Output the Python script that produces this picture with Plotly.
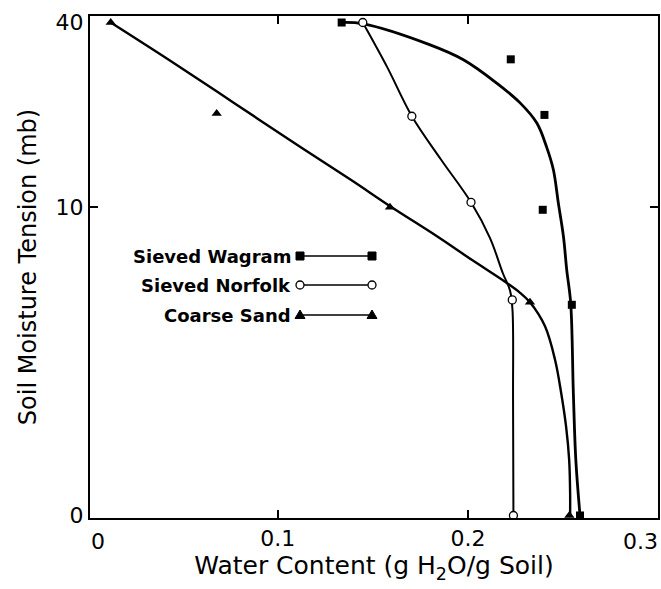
import plotly.graph_objects as go

# ---------------- data ----------------
OFFSET = 1.3  # tension axis is drawn on log(tension + OFFSET)

# measured points
wagram_x = [0.1336, 0.2225, 0.2402, 0.2393, 0.2546, 0.2589]
wagram_y = [40, 30.6, 20.3, 9.8, 4.4, 0]
norfolk_x = [0.1447, 0.1705, 0.2016, 0.2233, 0.2239]
norfolk_y = [40, 20.1, 10.4, 4.6, 0]
sand_x = [0.0122, 0.0679, 0.1590, 0.2326, 0.2533]
sand_y = [40, 20.5, 10.0, 4.5, 0]

# fitted curves
wagram_fit_x = [0.1336, 0.1450, 0.1801, 0.1976, 0.2151, 0.2274, 0.2362, 0.2414,
                0.2449, 0.2475, 0.2502, 0.2519, 0.2540, 0.2554, 0.2567, 0.2589]
wagram_fit_y = [40, 39.6, 34.0, 30.5, 25.7, 22.2, 19.1, 15.9,
                13.4, 10.35, 7.9, 6.0, 4.47, 1.77, 0.62, 0]
norfolk_fit_x = [0.1447, 0.1574, 0.1705, 0.1858, 0.2016, 0.2116, 0.2184, 0.2221,
                 0.2234, 0.2237, 0.2239]
norfolk_fit_y = [40, 29.0, 20.1, 14.5, 10.4, 7.8, 5.8, 5.0, 4.2, 1.62, 0]
sand_fit_x = [0.0122, 0.0427, 0.0770, 0.1121, 0.1384, 0.1599, 0.1839, 0.2022, 0.2195,
              0.2274, 0.2326, 0.2405, 0.2458, 0.2490, 0.2516, 0.2532, 0.2537, 0.2537]
sand_fit_y = [40, 30.5, 22.2, 15.9, 12.4, 10.0, 7.9, 6.5, 5.4,
              4.9, 4.5, 3.6, 2.57, 1.77, 1.12, 0.62, 0.22, 0]

series_names = ["Sieved Wagram", "Sieved Norfolk", "Coarse Sand"]
x_tick_vals = [0.1, 0.2]
x_edge_labels = ["0", "0.3"]
y_tick_vals = [0, 10, 40]
y_tick_text = ["0", "10", "40"]

# ---------------- figure ----------------
FONT = "DejaVu Sans"
fig = go.Figure()


def ty(vals):
    return [v + OFFSET for v in vals]


fits = [(wagram_fit_x, wagram_fit_y, 2.8), (norfolk_fit_x, norfolk_fit_y, 2.0),
        (sand_fit_x, sand_fit_y, 2.4)]
for fx, fy, w in fits:
    fig.add_trace(go.Scatter(x=fx, y=ty(fy), mode="lines",
                             line=dict(color="black", width=w, shape="spline", smoothing=1.0),
                             showlegend=False, hoverinfo="skip"))

fig.add_trace(go.Scatter(x=wagram_x, y=ty(wagram_y), mode="markers", name=series_names[0],
                         marker=dict(symbol="square", size=8, color="black"), showlegend=False))
fig.add_trace(go.Scatter(x=norfolk_x, y=ty(norfolk_y), mode="markers", name=series_names[1],
                         marker=dict(symbol="circle", size=8, color="white",
                                     line=dict(color="black", width=1.3)), showlegend=False))
fig.add_trace(go.Scatter(x=sand_x, y=ty(sand_y), mode="markers", name=series_names[2],
                         marker=dict(symbol="triangle-up", size=9, color="black"), showlegend=False))

# ---------------- custom legend (text left of sample) ----------------
L, T, W, H = 90, 16, 568, 502
def px(x):
    return (x - L) / W
def py(y):
    return (T + H - y) / H

legend_rows = [256, 285, 315]
legend_syms = ["square", "circle", "triangle"]
shapes = []
annotations = []
for name, row, sym in zip(series_names, legend_rows, legend_syms):
    yy = py(row)
    shapes.append(dict(type="line", xref="paper", yref="paper", x0=px(300), x1=px(372),
                       y0=yy, y1=yy, line=dict(color="black", width=1.6)))
    for mx in (300, 372):
        common = dict(xref="paper", yref="paper", xsizemode="pixel", ysizemode="pixel",
                      xanchor=px(mx), yanchor=yy)
        if sym == "square":
            shapes.append(dict(type="rect", x0=-4, x1=4, y0=-4, y1=4, fillcolor="black",
                               line=dict(color="black", width=1), **common))
        elif sym == "circle":
            shapes.append(dict(type="circle", x0=-4, x1=4, y0=-4, y1=4, fillcolor="white",
                               line=dict(color="black", width=1.3), **common))
        else:
            shapes.append(dict(type="path", path="M -5,-3.5 L 5,-3.5 L 0,5 Z", fillcolor="black",
                               line=dict(color="black", width=1), **common))
    annotations.append(dict(text=name, xref="paper", yref="paper", x=px(293), y=yy,
                            xanchor="right", yanchor="middle", showarrow=False,
                            font=dict(family=FONT, size=18, color="black", weight="bold")))

# edge tick labels of the x axis (placed as in the reference)
for lab, xpos in zip(x_edge_labels, [98, 640]):
    annotations.append(dict(text=lab, xref="paper", yref="paper", x=px(xpos), y=py(541),
                            xanchor="center", yanchor="middle", showarrow=False,
                            font=dict(family=FONT, size=22, color="black")))

fig.update_layout(
    width=661, height=589,
    margin=dict(l=L, r=661 - L - W, t=T, b=589 - T - H, autoexpand=False),
    paper_bgcolor="white", plot_bgcolor="white",
    font=dict(family=FONT, color="black"),
    shapes=shapes, annotations=annotations,
    showlegend=False,
)
fig.update_xaxes(
    range=[0.0013, 0.2999], showgrid=False, zeroline=False, automargin=False,
    showline=True, linecolor="black", linewidth=2, mirror="ticks",
    tickvals=x_tick_vals, ticktext=[str(v) for v in x_tick_vals],
    ticks="inside", ticklen=8, tickwidth=2, tickcolor="black",
    tickfont=dict(family=FONT, size=22, color="black"),
    title=dict(text="Water Content (g H<sub>2</sub>O/g Soil)",
               font=dict(family=FONT, size=25, color="black"), standoff=4),
)
fig.update_yaxes(
    type="log", range=[0.1063, 1.6358], showgrid=False, zeroline=False, automargin=False,
    showline=True, linecolor="black", linewidth=2, mirror="ticks",
    tickvals=ty(y_tick_vals), ticktext=y_tick_text, ticks="",
    minor=dict(tickvals=ty([10]), ticks="inside", ticklen=8, tickwidth=2, tickcolor="black"),
    tickfont=dict(family=FONT, size=22, color="black"),
    title=dict(text="Soil Moisture Tension (mb)",
               font=dict(family=FONT, size=24, color="black"), standoff=12),
)

fig.write_html("out.html", config={"displayModeBar": False},
               post_script="document.body.style.margin='0px';")
